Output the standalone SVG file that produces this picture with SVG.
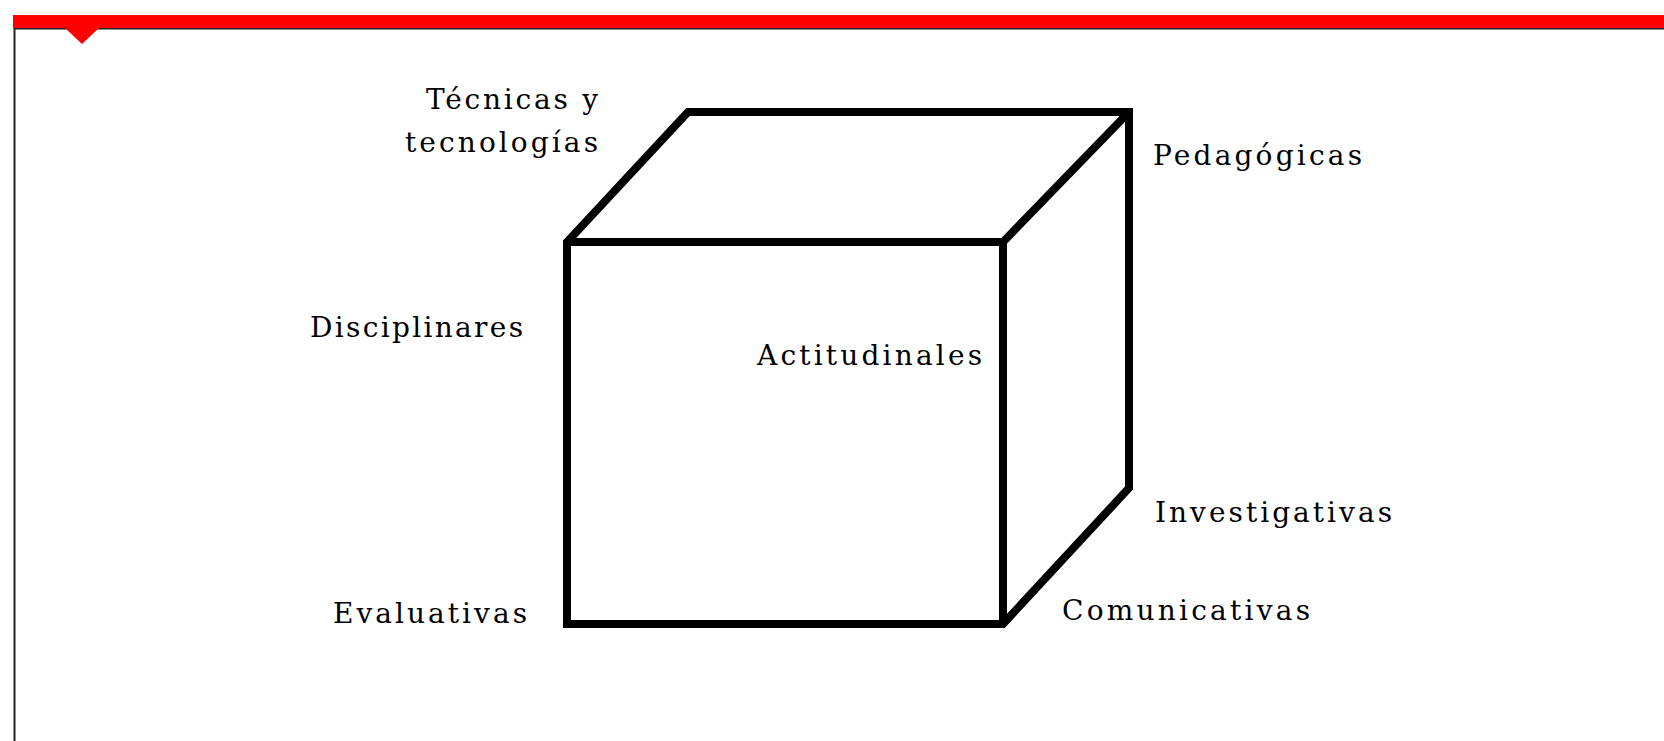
<svg xmlns="http://www.w3.org/2000/svg" width="1664" height="741" viewBox="0 0 1664 741">
<style>
.lbl{font-family:"DejaVu Serif","Liberation Serif",serif;font-size:28px;fill:#000}
.edge{fill:none;stroke:#000;stroke-width:8;stroke-linejoin:miter;stroke-miterlimit:10;stroke-linecap:butt}
</style>
<rect width="1664" height="741" fill="#fff"/>
<g id="frame">
<rect x="14.5" y="28.5" width="1660" height="740" fill="none" stroke="#222" stroke-width="2"/>
<rect x="13" y="15" width="1651" height="13" fill="#ff0000"/>
<polygon points="65,28 99,28 82,44" fill="#ff0000"/>
</g>
<g id="connectors">
<polygon class="edge" points="567,624 567,242 688,112 1129,112 1129,488 1003,624"/>
<polyline class="edge" points="567,242 1003,242 1129,112"/>
<line class="edge" x1="1003" y1="242" x2="1003" y2="624"/>
</g>
<g id="tecnicas"><text class="lbl" text-anchor="end" x="598" y="109" textLength="172" lengthAdjust="spacing">Técnicas y</text><text class="lbl" text-anchor="end" x="598" y="152" textLength="193" lengthAdjust="spacing">tecnologías</text></g>
<g id="pedagogicas"><text class="lbl" x="1153" y="165" textLength="209" lengthAdjust="spacing">Pedagógicas</text></g>
<g id="disciplinares"><text class="lbl" x="310" y="337" textLength="213" lengthAdjust="spacing">Disciplinares</text></g>
<g id="actitudinales"><text class="lbl" text-anchor="end" x="982" y="365" textLength="225" lengthAdjust="spacing">Actitudinales</text></g>
<g id="investigativas"><text class="lbl" x="1155" y="522" textLength="237" lengthAdjust="spacing">Investigativas</text></g>
<g id="comunicativas"><text class="lbl" x="1062" y="620" textLength="248" lengthAdjust="spacing">Comunicativas</text></g>
<g id="evaluativas"><text class="lbl" x="333" y="623" textLength="194" lengthAdjust="spacing">Evaluativas</text></g>
</svg>
